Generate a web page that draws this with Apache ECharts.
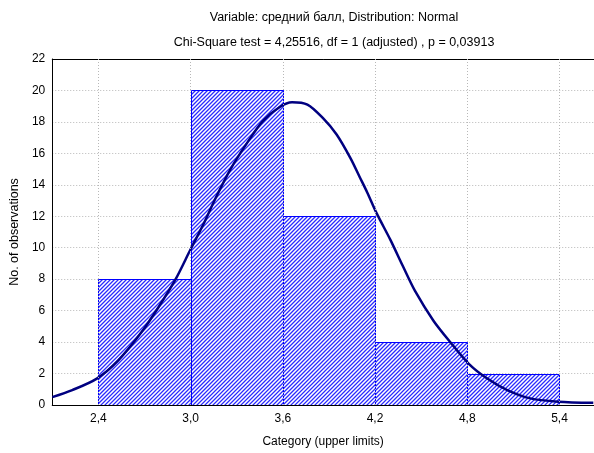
<!DOCTYPE html>
<html>
<head>
<meta charset="utf-8">
<script src="https://cdn.jsdelivr.net/npm/echarts@6/dist/echarts.min.js"></script>
<style>html,body{margin:0;padding:0;background:#fff;}#c{width:594px;height:453px;}</style>
</head>
<body>
<div id="c"></div>
<script>
var titleLine1 = 'Variable: средний балл, Distribution: Normal';
var titleLine2 = 'Chi-Square test = 4,25516, df = 1 (adjusted) , p = 0,03913';
var xAxisName = 'Category (upper limits)';
var yAxisName = 'No. of observations';
var binStarts = [2.4, 3.0, 3.6, 4.2, 4.8];
var binEnds   = [3.0, 3.6, 4.2, 4.8, 5.4];
var counts    = [8, 20, 12, 4, 2];
var xTicks    = [2.4, 3.0, 3.6, 4.2, 4.8, 5.4];
var curveX = [2.10, 2.23, 2.39, 2.53, 2.68, 2.79, 2.90, 3.00, 3.09, 3.16, 3.26, 3.37, 3.47, 3.58, 3.66, 3.76, 3.86, 3.95, 4.04, 4.10, 4.15, 4.21, 4.30, 4.38, 4.46, 4.58, 4.69, 4.81, 4.93, 5.06, 5.21, 5.39, 5.62];
var curveY = [0.50, 0.95, 1.68, 2.84, 4.62, 6.20, 7.95, 9.90, 11.62, 13.10, 15.00, 16.70, 18.05, 18.95, 19.25, 19.10, 18.25, 17.20, 15.70, 14.50, 13.50, 12.20, 10.50, 8.85, 7.25, 5.36, 3.99, 2.62, 1.68, 0.95, 0.42, 0.21, 0.14];

var FONT = '"Liberation Sans", Arial, sans-serif';
var HATCH_STEP = 4;

var barData = binStarts.map(function (s, i) { return [s, binEnds[i], counts[i]]; });
var curveData = curveX.map(function (x, i) { return [x, curveY[i]]; });

function fmt(v) { return v.toFixed(1).replace('.', ','); }

// build "/" hatch path clipped to rect
function hatchPath(x0, y0, x1, y1, step) {
  var d = '';
  for (var c = x0 + y0 + step; c < x1 + y1; c += step) {
    var ay = Math.min(y1, c - x0), ax = c - ay;
    var by = Math.max(y0, c - x1), bx = c - by;
    d += 'M' + ax.toFixed(2) + ' ' + ay.toFixed(2) + 'L' + bx.toFixed(2) + ' ' + by.toFixed(2);
  }
  return d;
}

var chart = echarts.init(document.getElementById('c'), null, { renderer: 'canvas' });
chart.setOption({
  animation: false,
  backgroundColor: '#ffffff',
  textStyle: { fontFamily: FONT },
  title: {
    text: titleLine1 + '\n' + titleLine2,
    left: 329, top: 0, textAlign: 'center',
    textStyle: { fontFamily: FONT, fontSize: 12.5, fontWeight: 'normal', color: '#000', lineHeight: 25 }
  },
  grid: { left: 52, right: 0, top: 59, bottom: 45, containLabel: false },
  xAxis: [{
    type: 'value', min: 2.1, max: 5.6245, position: 'bottom',
    name: xAxisName, nameLocation: 'middle', nameGap: 31,
    nameTextStyle: { fontFamily: FONT, fontSize: 12, color: '#000' },
    axisLine: { show: true, onZero: false, lineStyle: { color: '#000', width: 1 } },
    axisTick: { show: false, customValues: xTicks },
    axisLabel: { customValues: xTicks, formatter: fmt, fontFamily: FONT, fontSize: 12, color: '#000', margin: 8 },
    splitLine: { show: false }
  }, {
    type: 'value', min: 2.1, max: 5.6245, position: 'top',
    axisLine: { show: true, onZero: false, lineStyle: { color: '#000', width: 1 } },
    axisTick: { show: false }, axisLabel: { show: false }, splitLine: { show: false }
  }],
  yAxis: {
    type: 'value', min: 0, max: 22, interval: 2,
    name: yAxisName, nameLocation: 'middle', nameGap: 27, nameRotate: 90,
    nameTextStyle: { fontFamily: FONT, fontSize: 12.5, color: '#000' },
    axisLine: { show: true, lineStyle: { color: '#000', width: 1 } },
    axisTick: { show: false },
    axisLabel: { fontFamily: FONT, fontSize: 12, color: '#000', margin: 7 },
    splitLine: { show: true, lineStyle: { color: '#b8b8b8', type: [1, 2], width: 1 } }
  },
  series: [{
    type: 'line', data: [], z: 1, silent: true,
    markLine: {
      silent: true, symbol: 'none', label: { show: false },
      lineStyle: { color: '#b8b8b8', type: [1, 2], width: 1 },
      data: xTicks.map(function (v) { return { xAxis: v }; })
    }
  }, {
    type: 'custom', z: 2, clip: true,
    data: barData,
    encode: { x: [0, 1], y: 2 },
    renderItem: function (params, api) {
      var p0 = api.coord([api.value(0), api.value(2)]);
      var p1 = api.coord([api.value(1), 0]);
      var x0 = Math.round(p0[0]) + 0.5, y0 = Math.round(p0[1]) + 0.5;
      var x1 = Math.round(p1[0]) + 0.5, y1 = Math.round(p1[1]) + 0.5;
      return {
        type: 'group',
        children: [{
          type: 'rect',
          shape: { x: x0, y: y0, width: x1 - x0, height: y1 - y0 },
          style: { fill: '#ffffff', stroke: null }
        }, {
          type: 'path',
          shape: { pathData: hatchPath(x0, y0, x1, y1, HATCH_STEP) },
          style: { fill: null, stroke: '#2a2aff', lineWidth: 1.3 }
        }, {
          type: 'rect',
          shape: { x: x0, y: y0, width: x1 - x0, height: y1 - y0 },
          style: { fill: null, stroke: '#0000ff', lineWidth: 1 }
        }]
      };
    }
  }, {
    type: 'line', z: 3, data: curveData, smooth: 0.3, showSymbol: false, symbol: 'none',
    lineStyle: { color: '#000080', width: 2.5 }, clip: true
  }]
});
</script>
</body>
</html>
